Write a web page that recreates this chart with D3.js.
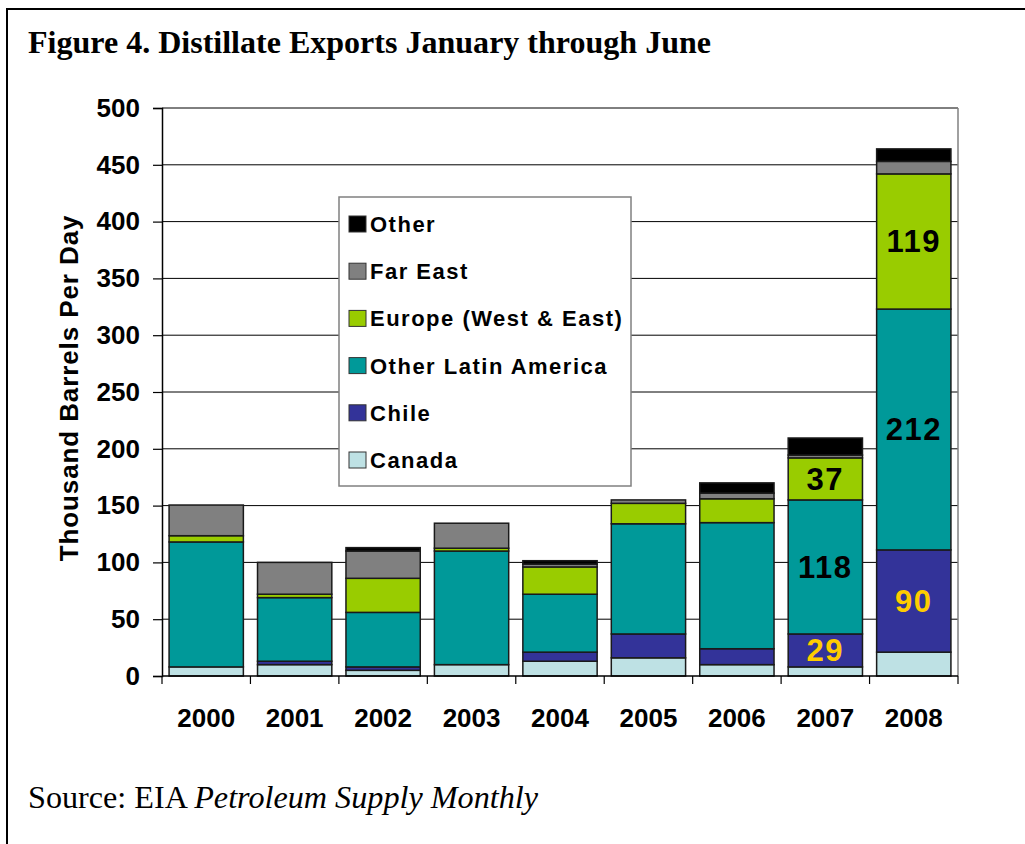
<!DOCTYPE html>
<html>
<head>
<meta charset="utf-8">
<script src="https://cdn.jsdelivr.net/npm/d3@7"></script>
<style>
  html, body { margin: 0; padding: 0; background: #fff; }
  svg { display: block; }
</style>
</head>
<body>
<svg id="chart" width="1025" height="844"></svg>
<script>
// ---- data ----
const years = ["2000","2001","2002","2003","2004","2005","2006","2007","2008"];
const canada     = [8, 10, 5, 10, 13, 16, 10, 8, 21];
const chile      = [0, 3, 3, 0, 8, 21, 14, 29, 90];
const otherLatAm = [110, 56, 48, 100, 51, 97, 111, 118, 212];
const europe     = [5.5, 3, 30, 2.5, 24, 18, 21, 37, 119];
const farEast    = [27, 28, 24, 22, 2.5, 3, 5, 2.5, 11];
const other      = [0, 0, 3, 0, 3, 0, 9, 15, 11];
const seriesNames = ["Canada", "Chile", "Other Latin America", "Europe (West & East)", "Far East", "Other"];
const seriesColors = ["#BEE1E4", "#333399", "#009999", "#99CC00", "#808080", "#000000"];
const yTicks = [0, 50, 100, 150, 200, 250, 300, 350, 400, 450, 500];
// value labels shown on the 2007 and 2008 bars
const labelYears  = ["2007", "2007", "2007", "2008", "2008", "2008"];
const labelSeries = ["Chile", "Other Latin America", "Europe (West & East)", "Chile", "Other Latin America", "Europe (West & East)"];
const labelTexts  = ["29", "118", "37", "90", "212", "119"];
const labelColors = ["#FFCC00", "#000000", "#000000", "#FFCC00", "#000000", "#000000"];

const seriesValues = [canada, chile, otherLatAm, europe, farEast, other];
const table = years.map((y, i) => {
  const row = { year: y };
  seriesNames.forEach((s, k) => row[s] = seriesValues[k][i]);
  return row;
});

const svg = d3.select("#chart");
const W = 1025, H = 844;
const plot = { left: 162, right: 958, top: 108, bottom: 676 };

// outer frame
svg.append("path")
  .attr("d", `M7,${H} L7,9 L${W},9`)
  .attr("fill", "none").attr("stroke", "#000").attr("stroke-width", 2);

// title
svg.append("text")
  .attr("x", 28).attr("y", 53)
  .attr("font-family", "'Liberation Serif', 'Times New Roman', serif")
  .attr("font-weight", "bold").attr("font-size", 31)
  .attr("textLength", 683).attr("lengthAdjust", "spacingAndGlyphs")
  .text("Figure 4. Distillate Exports January through June");

// source
const src = svg.append("text")
  .attr("x", 28).attr("y", 808)
  .attr("font-family", "'Liberation Serif', 'Times New Roman', serif")
  .attr("font-size", 31)
  .attr("textLength", 510).attr("lengthAdjust", "spacingAndGlyphs");
src.append("tspan").text("Source: EIA ");
src.append("tspan").attr("font-style", "italic").text("Petroleum Supply Monthly");

const x = d3.scaleBand().domain(years).range([plot.left, plot.right]).paddingInner(0.16).paddingOuter(0.08);
const y = d3.scaleLinear().domain([0, 500]).range([plot.bottom, plot.top]);

// gridlines
svg.append("g").selectAll("line").data(yTicks.filter(t => t > 0)).join("line")
  .attr("x1", plot.left).attr("x2", plot.right)
  .attr("y1", d => y(d)).attr("y2", d => y(d))
  .attr("stroke", "#000").attr("stroke-width", 1);

// right border of plot area
svg.append("line")
  .attr("x1", plot.right).attr("x2", plot.right)
  .attr("y1", plot.top).attr("y2", plot.bottom)
  .attr("stroke", "#808080").attr("stroke-width", 1.5);

// stacked bars
const stack = d3.stack().keys(seriesNames);
const stacked = stack(table);
const color = d3.scaleOrdinal().domain(seriesNames).range(seriesColors);

const barsG = svg.append("g");
stacked.forEach(layer => {
  barsG.append("g").attr("fill", color(layer.key))
    .selectAll("rect").data(layer.filter(d => d[1] - d[0] > 0)).join("rect")
    .attr("x", d => x(d.data.year))
    .attr("width", x.bandwidth())
    .attr("y", d => y(d[1]))
    .attr("height", d => y(d[0]) - y(d[1]))
    .attr("stroke", "#1a1a1a").attr("stroke-width", 1.5);
});

// y axis
const yAxis = d3.axisLeft(y).tickValues(yTicks).tickSize(9).tickPadding(13).tickFormat(d3.format("d"));
const yg = svg.append("g").attr("transform", `translate(${plot.left},0)`).call(yAxis);
yg.select(".domain").attr("stroke", "#000").attr("stroke-width", 1.5);
yg.selectAll(".tick line").attr("stroke", "#000").attr("stroke-width", 1.2);
yg.selectAll(".tick text")
  .attr("font-family", "'Liberation Sans', Arial, sans-serif")
  .attr("font-weight", "bold").attr("font-size", 26).attr("fill", "#000");

// x axis
const xg = svg.append("g").attr("transform", `translate(0,${plot.bottom})`);
xg.append("line").attr("x1", plot.left).attr("x2", plot.right).attr("y1", 0).attr("y2", 0)
  .attr("stroke", "#000").attr("stroke-width", 1.5);
const bounds = years.map(yy => x(yy) - x.step() * x.paddingInner() / 2).concat([plot.right]);
bounds[0] = plot.left;
xg.selectAll("line.tk").data(bounds).join("line").attr("class", "tk")
  .attr("x1", d => d).attr("x2", d => d).attr("y1", 0).attr("y2", 8)
  .attr("stroke", "#000").attr("stroke-width", 1.2);
xg.selectAll("text").data(years).join("text")
  .attr("x", d => x(d) + x.bandwidth() / 2).attr("y", 51)
  .attr("text-anchor", "middle")
  .attr("font-family", "'Liberation Sans', Arial, sans-serif")
  .attr("font-weight", "bold").attr("font-size", 26)
  .text(d => d);

// y axis title
svg.append("text")
  .attr("transform", `translate(78,${(plot.top + plot.bottom) / 2 - 4}) rotate(-90)`)
  .attr("text-anchor", "middle")
  .attr("font-family", "'Liberation Sans', Arial, sans-serif")
  .attr("font-weight", "bold").attr("font-size", 26)
  .attr("letter-spacing", 0.9)
  .text("Thousand Barrels Per Day");

// value labels
labelTexts.forEach((t, i) => {
  const layer = stacked[seriesNames.indexOf(labelSeries[i])];
  const d = layer[years.indexOf(labelYears[i])];
  svg.append("text")
    .attr("x", x(labelYears[i]) + x.bandwidth() / 2)
    .attr("y", y((d[0] + d[1]) / 2) + 11)
    .attr("text-anchor", "middle")
    .attr("font-family", "'Liberation Sans', Arial, sans-serif")
    .attr("font-weight", "bold").attr("font-size", 31)
    .attr("letter-spacing", 1.5)
    .attr("fill", labelColors[i])
    .text(t);
});

// legend
const lg = svg.append("g");
lg.append("rect").attr("x", 339).attr("y", 197).attr("width", 292).attr("height", 289)
  .attr("fill", "#fff").attr("stroke", "#808080").attr("stroke-width", 1.5);
const legendOrder = seriesNames.slice().reverse();
legendOrder.forEach((s, i) => {
  const cy = 224 + i * 47.2;
  lg.append("rect").attr("x", 349).attr("y", cy - 8).attr("width", 17).attr("height", 16)
    .attr("fill", color(s)).attr("stroke", "#333").attr("stroke-width", 1);
  lg.append("text").attr("x", 370).attr("y", cy + 8)
    .attr("font-family", "'Liberation Sans', Arial, sans-serif")
    .attr("font-weight", "bold").attr("font-size", 22)
    .attr("letter-spacing", 1.5)
    .text(s);
});
</script>
</body>
</html>
